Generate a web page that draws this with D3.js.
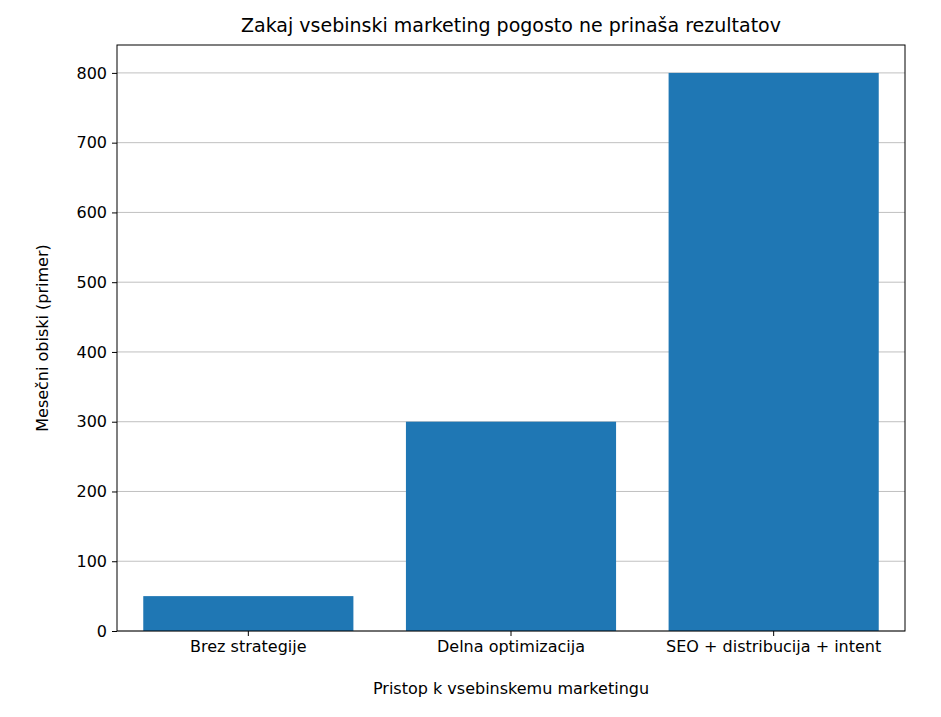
<!DOCTYPE html>
<html>
<head>
<meta charset="utf-8">
<script src="https://cdn.jsdelivr.net/npm/d3@7"></script>
<style>
  body { margin: 0; background: #fff; }
  text { font-family: "DejaVu Sans", sans-serif; fill: #000; }
</style>
</head>
<body>
<svg id="chart" width="941" height="717"></svg>
<script>
const categories = ["Brez strategije", "Delna optimizacija", "SEO + distribucija + intent"];
const visits = [50, 300, 800];
const yTicks = [0, 100, 200, 300, 400, 500, 600, 700, 800];

const margin = { top: 45, right: 36, bottom: 86, left: 117 };
const width = 941 - margin.left - margin.right;
const height = 717 - margin.top - margin.bottom;

const svg = d3.select("#chart");
const g = svg.append("g")
  .attr("transform", "translate(" + margin.left + "," + margin.top + ")");

const x = d3.scaleBand().domain(categories).range([0, width]).paddingInner(0.2).paddingOuter(0.1);
const y = d3.scaleLinear().domain([0, 840]).range([height, 0]);

// grid
g.selectAll(".grid")
  .data(yTicks)
  .enter()
  .append("line")
  .attr("x1", 0)
  .attr("x2", width)
  .attr("y1", (d) => y(d))
  .attr("y2", (d) => y(d))
  .style("stroke", "#b0b0b0")
  .style("stroke-width", 0.8);

g.selectAll(".bar")
  .data(visits)
  .enter()
  .append("rect")
  .attr("x", (d, i) => x(categories[i]))
  .attr("y", (d) => y(d))
  .attr("width", x.bandwidth())
  .attr("height", (d) => height - y(d))
  .style("fill", "#1f77b4");

const yAxis = g.append("g").call(d3.axisLeft(y).tickValues(yTicks).tickSize(5).tickPadding(5));
const xAxis = g.append("g").attr("transform", "translate(0," + height + ")")
  .call(d3.axisBottom(x).tickSize(5).tickPadding(5));
[yAxis, xAxis].forEach((a) => {
  a.selectAll("text").style("font-size", "16px").style("font-family", "DejaVu Sans, sans-serif");
  a.select(".domain").remove();
  a.selectAll("line").style("stroke", "#000");
});

g.append("rect")
  .attr("width", width)
  .attr("height", height)
  .style("fill", "none")
  .style("stroke", "#000")
  .style("stroke-width", 1);

svg.append("text")
  .attr("x", margin.left + width / 2)
  .attr("y", 32)
  .attr("text-anchor", "middle")
  .style("font-size", "19px")
  .text("Zakaj vsebinski marketing pogosto ne prinaša rezultatov");

svg.append("text")
  .attr("x", margin.left + width / 2)
  .attr("y", 694)
  .attr("text-anchor", "middle")
  .style("font-size", "16px")
  .text("Pristop k vsebinskemu marketingu");

svg.append("text")
  .attr("transform", "translate(48," + (margin.top + height / 2) + ") rotate(-90)")
  .attr("text-anchor", "middle")
  .style("font-size", "16px")
  .text("Mesečni obiski (primer)");
</script>
</body>
</html>
